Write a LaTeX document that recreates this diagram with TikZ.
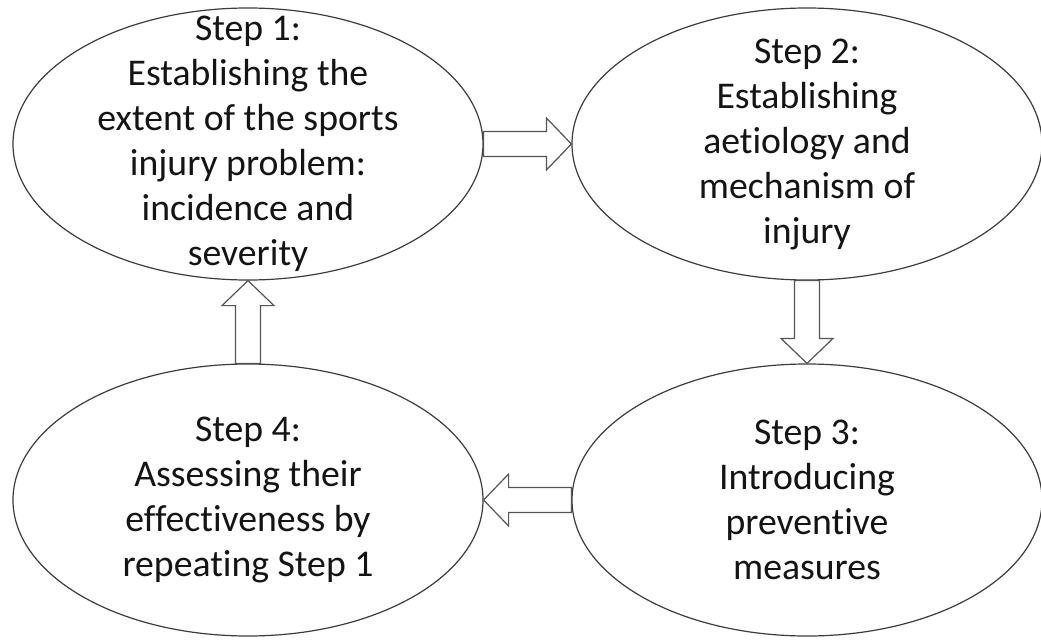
\documentclass[tikz,border=0pt]{standalone}
\usepackage{fontspec}
\setmainfont{Carlito}[Ligatures=NoCommon]
\usepackage{tikz}
\usetikzlibrary{calc,shapes.geometric}
\definecolor{stline}{RGB}{60,60,60}
\definecolor{starrow}{RGB}{85,85,85}
\definecolor{sttext}{RGB}{20,20,20}
\tikzset{
  stepell/.style={ellipse, draw=stline, line width=0.9pt, fill=white, minimum width=352.5pt, minimum height=204pt, inner sep=0pt},
  steptxt/.style={align=center, text=sttext, font=\fontsize{28.3}{33.75}\selectfont, inner sep=0pt},
  blockarr/.style={draw=starrow, line width=0.9pt, fill=white, line join=miter},
}
% hollow block arrow from node anchor #1 to node anchor #2
\newcommand\blockarrow[2]{%
  \coordinate (hb) at ($(#2)!18.75pt!(#1)$);
  \draw[blockarr] ($(#1)!9.375pt!90:(#2)$) -- ($(hb)!9.375pt!-90:(#1)$)
    -- ($(hb)!19.5pt!-90:(#1)$) -- (#2) -- ($(hb)!19.5pt!90:(#1)$)
    -- ($(hb)!9.375pt!90:(#1)$) -- ($(#1)!9.375pt!-90:(#2)$) -- cycle;
}

\begin{document}
\begin{tikzpicture}[x=0.75pt,y=-0.75pt]
  \useasboundingbox (0,0) rectangle (1041,639);
  \node[stepell, label={[steptxt]center:Step 1:\\Establishing the\\extent of the sports\\injury problem:\\incidence and\\severity}] (s1) at (248,144) {};
  \node[stepell, label={[steptxt]center:Step 2:\\Establishing\\aetiology and\\mechanism of\\injury}] (s2) at (807,144) {};
  \node[stepell, label={[steptxt]center:Step 3:\\Introducing\\preventive\\measures}] (s3) at (807,500) {};
  \node[stepell, label={[steptxt]center:Step 4:\\Assessing their\\effectiveness by\\repeating Step 1}] (s4) at (248,500) {};
  \blockarrow{s1.east}{s2.west}
  \blockarrow{s2.south}{s3.north}
  \blockarrow{s3.west}{s4.east}
  \blockarrow{s4.north}{s1.south}
\end{tikzpicture}
\end{document}
